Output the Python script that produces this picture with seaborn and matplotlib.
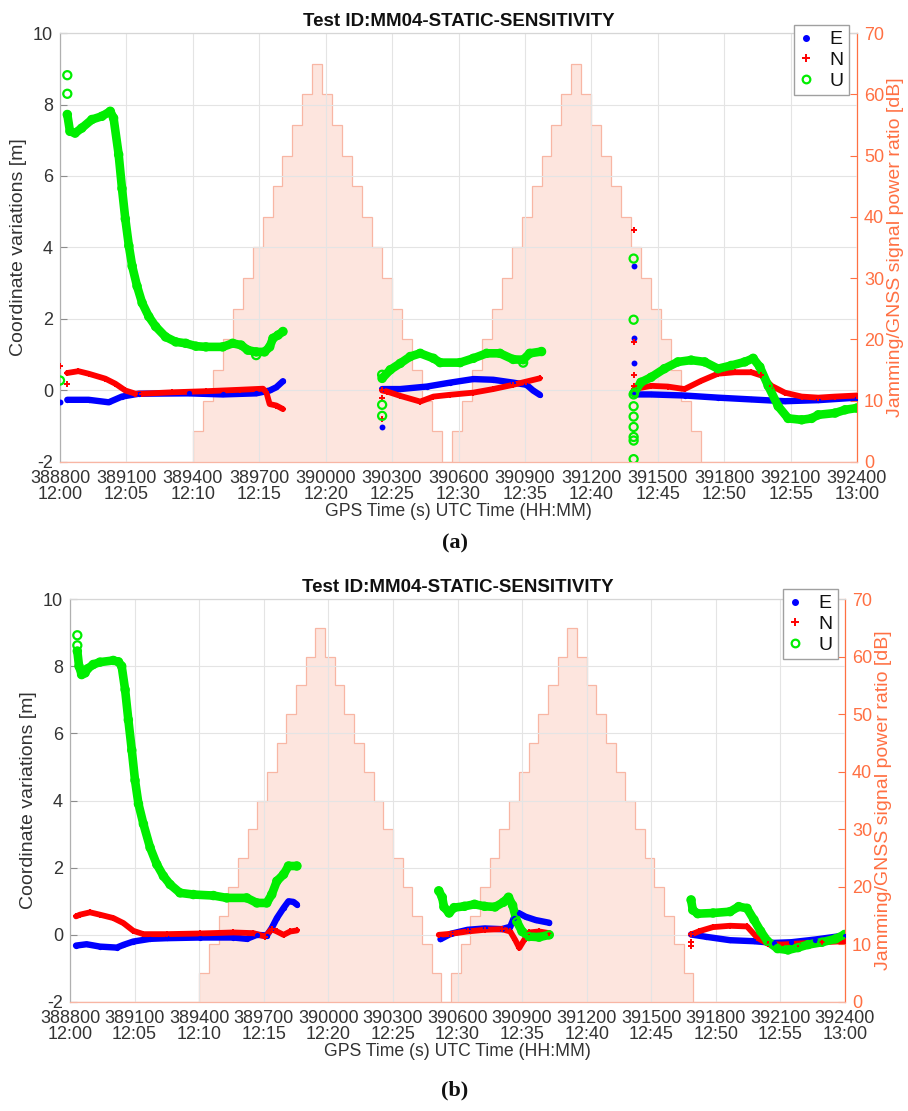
import matplotlib
matplotlib.use("Agg")
import numpy as np
import pandas as pd
import matplotlib.pyplot as plt
import seaborn as sns
from matplotlib.lines import Line2D

sns.set_theme(style="white")
plt.rcParams['font.family'] = ['Liberation Sans', 'DejaVu Sans']
plt.rcParams['axes.unicode_minus'] = False

# ---------------- shared data ----------------
TITLE = "Test ID:MM04-STATIC-SENSITIVITY"
XLABEL = "GPS Time (s) UTC Time (HH:MM)"
YLABEL_L = "Coordinate variations [m]"
YLABEL_R = "Jamming/GNSS signal power ratio [dB]"
x_ticks = [388800, 389100, 389400, 389700, 390000, 390300, 390600,
           390900, 391200, 391500, 391800, 392100, 392400]
x_tick_utc = ["12:00", "12:05", "12:10", "12:15", "12:20", "12:25", "12:30",
              "12:35", "12:40", "12:45", "12:50", "12:55", "13:00"]
y_ticks_left = [-2, 0, 2, 4, 6, 8, 10]
y_ticks_right = [0, 10, 20, 30, 40, 50, 60, 70]

# jamming-to-signal ratio profile (dB), stepped
jam_edges = [388800,
             389400, 389445, 389490, 389535, 389580, 389625, 389670, 389715, 389760,
             389805, 389850, 389895, 389940, 389985, 390030, 390075, 390120, 390165,
             390210, 390255, 390300, 390345, 390390, 390435, 390480, 390525,
             390570, 390615, 390660, 390705, 390750, 390795, 390840, 390885, 390930,
             390975, 391020, 391065, 391110, 391155, 391200, 391245, 391290, 391335,
             391380, 391425, 391470, 391515, 391560, 391605, 391650, 391695,
             392400]
jam_levels = [0,
              5, 10, 15, 20, 25, 30, 35, 40, 45, 50, 55, 60, 65,
              60, 55, 50, 45, 40, 35, 30, 25, 20, 15, 10, 5,
              0,
              5, 10, 15, 20, 25, 30, 35, 40, 45, 50, 55, 60, 65,
              60, 55, 50, 45, 40, 35, 30, 25, 20, 15, 10, 5,
              0]

# ---------------- panel (a) ----------------
a_E_t = [[388833, 388929, 389020, 389080, 389156, 389383, 389535, 389686, 389747, 389777, 389807],
         [390255, 390337, 390457, 390562, 390667, 390757, 390847, 390907, 390937, 390967],
         [391394, 391470, 391621, 391772, 391923, 392074, 392225, 392399]]
a_E_v = [[-0.26, -0.26, -0.33, -0.17, -0.09, -0.08, -0.11, -0.08, 0.0, 0.09, 0.26],
         [0.04, 0.04, 0.11, 0.22, 0.32, 0.30, 0.22, 0.16, 0.0, -0.12],
         [-0.11, -0.11, -0.14, -0.20, -0.25, -0.30, -0.27, -0.20]]
a_N_t = [[388833, 388883, 388929, 389005, 389050, 389095, 389141, 389171, 389308, 389459,
          389611, 389717, 389732, 389747, 389777, 389807],
         [390255, 390278, 390337, 390427, 390487, 390562, 390667, 390757, 390847, 390907, 390967],
         [391394, 391470, 391545, 391621, 391696, 391772, 391848, 391923, 391968, 392014,
          392074, 392150, 392225, 392301, 392399]]
a_N_v = [[0.49, 0.54, 0.47, 0.33, 0.19, 0.0, -0.09, -0.09, -0.05, -0.02,
          0.02, 0.05, -0.05, -0.38, -0.42, -0.52],
         [0.0, -0.03, -0.15, -0.31, -0.17, -0.12, -0.06, 0.04, 0.16, 0.25, 0.34],
         [0.04, 0.13, 0.11, 0.04, 0.27, 0.47, 0.51, 0.51, 0.42, 0.13,
          -0.06, -0.17, -0.20, -0.17, -0.14]]
a_U_t = [[388833, 388845, 388868, 388898, 388944, 388989, 389027, 389042, 389065, 389080,
          389095, 389111, 389126, 389148, 389171, 389201, 389232, 389277, 389323, 389368,
          389414, 389459, 389535, 389580, 389618, 389648, 389686, 389724, 389747, 389762,
          389785, 389807],
         [390255, 390292, 390337, 390382, 390427, 390487, 390517, 390607, 390667, 390727,
          390787, 390847, 390892, 390922, 390975],
         [391394, 391424, 391470, 391530, 391591, 391651, 391712, 391772, 391832, 391893,
          391931, 391961, 391999, 392044, 392089, 392150, 392195, 392225, 392301, 392346,
          392399]]
a_U_v = [[7.72, 7.25, 7.20, 7.34, 7.58, 7.67, 7.81, 7.62, 6.60, 5.65,
          4.80, 4.05, 3.48, 2.92, 2.45, 2.07, 1.79, 1.50, 1.36, 1.32,
          1.24, 1.22, 1.22, 1.32, 1.27, 1.13, 1.08, 1.08, 1.22, 1.46,
          1.55, 1.65],
         [0.34, 0.58, 0.76, 0.95, 1.04, 0.90, 0.78, 0.78, 0.90, 1.04,
          1.04, 0.87, 0.86, 1.04, 1.09],
         [-0.06, 0.23, 0.37, 0.61, 0.80, 0.85, 0.80, 0.61, 0.70, 0.80,
          0.90, 0.66, 0.13, -0.44, -0.78, -0.82, -0.78, -0.68, -0.63, -0.54,
          -0.49]]
# isolated epochs (re-acquisition outliers)
a_E_out_t = [388800, 390255, 391391, 391391, 391391]
a_E_out_v = [-0.33, -1.03, 3.47, 1.47, 0.77]
a_N_out_t = [388800, 388833, 390255, 390255, 391391, 391391, 391391, 391391]
a_N_out_v = [0.69, 0.17, -0.80, -0.20, 4.48, 1.37, 0.44, 0.13]
a_U_out_t = [388800, 388833, 388833, 389686, 390255, 390255, 390255, 390892,
             391391, 391391, 391391, 391391, 391391, 391391, 391391, 391391, 391391]
a_U_out_v = [0.28, 8.82, 8.30, 0.99, -0.40, -0.71, 0.44, 0.78,
             3.69, 1.98, -0.11, -0.44, -0.73, -1.02, -1.30, -1.40, -1.92]

# ---------------- panel (b) ----------------
b_E_t = [[388828, 388877, 388939, 389017, 389048, 389094, 389172, 389249, 389404, 389559,
          389621, 389668, 389714, 389737, 389761, 389792, 389815, 389838, 389854],
         [390521, 390568, 390647, 390726, 390805, 390845, 390861, 390884, 390916, 390963, 391026],
         [391685, 391756, 391866, 391977, 392072, 392151, 392261, 392398]]
b_E_v = [[-0.32, -0.28, -0.35, -0.38, -0.30, -0.20, -0.12, -0.10, -0.08, -0.08,
          -0.12, 0.0, -0.02, 0.20, 0.50, 0.80, 1.00, 0.98, 0.90],
         [-0.13, 0.03, 0.15, 0.19, 0.17, 0.24, 0.49, 0.65, 0.54, 0.44, 0.36],
         [0.01, -0.06, -0.16, -0.19, -0.24, -0.22, -0.14, -0.02]]
b_N_t = [[388828, 388846, 388893, 388939, 389001, 389048, 389094, 389141, 389249, 389404,
          389559, 389652, 389707, 389737, 389761, 389792, 389823, 389854],
         [390513, 390568, 390647, 390726, 390805, 390845, 390868, 390887, 390908, 390932,
          390979, 391026],
         [391685, 391724, 391787, 391866, 391945, 391993, 392040, 392103, 392182, 392293, 392398]]
b_N_v = [[0.55, 0.60, 0.67, 0.60, 0.50, 0.35, 0.12, 0.02, 0.02, 0.04,
          0.07, 0.05, -0.05, 0.17, 0.10, 0.0, 0.10, 0.13],
         [0.0, 0.03, 0.10, 0.15, 0.17, 0.10, -0.15, -0.39, -0.17, 0.07, 0.10, 0.05],
         [0.01, 0.11, 0.23, 0.27, 0.25, -0.09, -0.26, -0.29, -0.26, -0.22, -0.19]]
b_U_t = [[388834, 388842, 388854, 388870, 388881, 388908, 388939, 389001, 389025, 389040,
          389056, 389071, 389087, 389102, 389118, 389141, 389172, 389203, 389234, 389265,
          389311, 389373, 389466, 389528, 389621, 389668, 389714, 389737, 389761, 389792,
          389815, 389854],
         [390513, 390529, 390537, 390561, 390584, 390632, 390679, 390726, 390774, 390813,
          390837, 390856, 390876, 390900, 390932, 390979, 391026],
         [391685, 391693, 391716, 391787, 391866, 391906, 391945, 391977, 392008, 392040,
          392087, 392135, 392182, 392229, 392293, 392356, 392398]]
b_U_v = [[8.45, 8.00, 7.75, 7.80, 7.92, 8.05, 8.12, 8.17, 8.13, 8.00,
          7.30, 6.40, 5.50, 4.60, 3.90, 3.30, 2.60, 2.10, 1.75, 1.50,
          1.25, 1.20, 1.17, 1.10, 1.10, 0.95, 0.95, 1.20, 1.60, 1.80,
          2.05, 2.05],
         [1.31, 1.12, 0.83, 0.65, 0.81, 0.85, 0.91, 0.85, 0.83, 0.97,
          1.12, 0.88, 0.39, 0.10, -0.05, -0.07, 0.0],
         [1.04, 0.74, 0.63, 0.65, 0.69, 0.84, 0.79, 0.45, 0.11, -0.19,
          -0.41, -0.45, -0.38, -0.29, -0.22, -0.12, 0.01]]
b_E_out_t = []
b_E_out_v = []
b_N_out_t = [391685, 391685]
b_N_out_v = [-0.33, -0.20]
b_U_out_t = [388834, 388834]
b_U_out_v = [8.92, 8.62]

# ---------------- styling ----------------
COL = {'E': '#0000FF', 'N': '#FF0000', 'U': '#00EE00'}
LW = {'E': 4.6, 'N': 4.2, 'U': 6.2}
ORANGE = '#FF7043'
PINK_FACE = '#FDE5DE'
PINK_EDGE = '#F8B6A4'
TXT = '#333333'
W, H = 908, 1111


def track_frame(tracks):
    rows = []
    for comp, (tsegs, vsegs) in tracks.items():
        for k, (ts, vs) in enumerate(zip(tsegs, vsegs)):
            for t, v in zip(ts, vs):
                rows.append((comp, f"{comp}{k}", t, v))
    return pd.DataFrame(rows, columns=['comp', 'seg', 't', 'v'])


def draw_markers(ax, comp, ts, vs, s_scale=1.0):
    if len(ts) == 0:
        return
    if comp == 'E':
        sns.scatterplot(x=ts, y=vs, ax=ax, color=COL['E'], marker='o', s=18 * s_scale,
                        linewidth=0, zorder=4, legend=False)
    elif comp == 'N':
        sns.scatterplot(x=ts, y=vs, ax=ax, color=COL['N'], marker='+', s=24 * s_scale,
                        linewidth=1.4, zorder=4, legend=False)
    else:
        sns.scatterplot(x=ts, y=vs, ax=ax, marker='o', s=34 * s_scale, facecolor='none',
                        edgecolor=COL['U'], linewidth=1.6, zorder=5, legend=False)


def panel(rect, tracks, outliers, leg_anchor, caption, cap_y):
    ax = fig.add_axes([rect[0] / W, 1 - rect[3] / H, (rect[2] - rect[0]) / W,
                       (rect[3] - rect[1]) / H])
    ax2 = ax.twinx()
    # jamming profile on the right axis
    ax2.stairs(jam_levels, jam_edges, baseline=0, fill=True, facecolor=PINK_FACE,
               edgecolor=PINK_FACE, linewidth=0, zorder=1)
    ax2.stairs(jam_levels, jam_edges, baseline=0, fill=False, edgecolor=PINK_EDGE,
               linewidth=0.9, zorder=2)
    ax2.set_ylim(0, 70)
    ax2.set_yticks(y_ticks_right)
    ax2.tick_params(axis='y', colors=ORANGE, labelsize=13, direction='in', length=5,
                    width=0.8, pad=5)
    ax2.set_ylabel(YLABEL_R, color=ORANGE, fontsize=14, rotation=90, labelpad=2)
    for s in ['left', 'top', 'bottom']:
        ax2.spines[s].set_visible(False)
    ax2.spines['right'].set_color(ORANGE)
    ax2.spines['right'].set_linewidth(0.9)

    ax.set_zorder(ax2.get_zorder() + 1)
    ax.patch.set_visible(False)

    df = track_frame(tracks)
    sns.lineplot(data=df, x='t', y='v', hue='comp', size='comp', units='seg',
                 estimator=None, sort=False, hue_order=['E', 'N', 'U'],
                 size_order=['E', 'N', 'U'], palette=COL, sizes=LW, legend=False,
                 ax=ax, zorder=3)
    for ln in ax.lines:
        ln.set_solid_capstyle('round')
        ln.set_solid_joinstyle('round')
    for comp in ['E', 'N', 'U']:
        tsegs, vsegs = tracks[comp]
        draw_markers(ax, comp, sum(tsegs, []), sum(vsegs, []), s_scale=0.8)
        draw_markers(ax, comp, outliers[comp][0], outliers[comp][1])

    ax.set_xlim(388800, 392400)
    ax.set_ylim(-2, 10)
    ax.set_xticks(x_ticks)
    ax.set_xticklabels([f"{t}\n{u}" for t, u in zip(x_ticks, x_tick_utc)],
                       linespacing=0.9)
    ax.set_yticks(y_ticks_left)
    ax.grid(True, color='#E4E4E4', linewidth=0.8)
    ax.tick_params(axis='both', colors='#8C8C8C', labelcolor=TXT, labelsize=13,
                   direction='in', length=5, width=0.8)
    ax.tick_params(axis='x', pad=6)
    ax.tick_params(axis='y', pad=5)
    ax.spines['right'].set_visible(False)
    ax.spines['left'].set_color('#B0B0B0')
    ax.spines['top'].set_color('#D6D6D6')
    ax.spines['bottom'].set_color(PINK_EDGE)
    for s in ax.spines.values():
        s.set_linewidth(0.9)
    ax.set_xlabel(XLABEL, fontsize=12.7, color=TXT, labelpad=0)
    ax.set_ylabel(YLABEL_L, fontsize=14, color=TXT, labelpad=4)
    ax.set_title(TITLE, fontsize=13.5, fontweight='bold', color='#111111', pad=5)

    handles = [Line2D([], [], linestyle='', marker='o', markersize=4,
                      color=COL['E']),
               Line2D([], [], linestyle='', marker='+', markersize=5.5,
                      markeredgewidth=1.4, color=COL['N']),
               Line2D([], [], linestyle='', marker='o', markersize=5.5,
                      markerfacecolor='none', markeredgewidth=1.6,
                      markeredgecolor=COL['U'])]
    leg = ax.legend(handles, ['E', 'N', 'U'], loc='upper right',
                    bbox_to_anchor=(leg_anchor[0] / W, 1 - leg_anchor[1] / H),
                    bbox_transform=fig.transFigure, borderaxespad=0,
                    fancybox=False, framealpha=1, edgecolor='#A0A0A0',
                    fontsize=14, handlelength=0.6, handletextpad=0.9,
                    labelspacing=0.15, borderpad=0.3)
    leg.get_frame().set_linewidth(1.0)
    for t in leg.get_texts():
        t.set_color('#111111')

    fig.text(455 / W, 1 - cap_y / H, caption, ha='center', va='center',
             fontsize=16, fontweight='bold',
             family=['Liberation Serif', 'DejaVu Serif'], color='#111111')
    return ax


fig = plt.figure(figsize=(W / 100, H / 100), dpi=100)
fig.patch.set_facecolor('white')

panel((60, 33, 857, 462),
      {'E': (a_E_t, a_E_v), 'N': (a_N_t, a_N_v), 'U': (a_U_t, a_U_v)},
      {'E': (a_E_out_t, a_E_out_v), 'N': (a_N_out_t, a_N_out_v),
       'U': (a_U_out_t, a_U_out_v)},
      (849, 25), '(a)', 543)
panel((70, 599, 845, 1002),
      {'E': (b_E_t, b_E_v), 'N': (b_N_t, b_N_v), 'U': (b_U_t, b_U_v)},
      {'E': (b_E_out_t, b_E_out_v), 'N': (b_N_out_t, b_N_out_v),
       'U': (b_U_out_t, b_U_out_v)},
      (838, 589), '(b)', 1090)

fig.savefig('out.png', dpi=100, facecolor='white')
